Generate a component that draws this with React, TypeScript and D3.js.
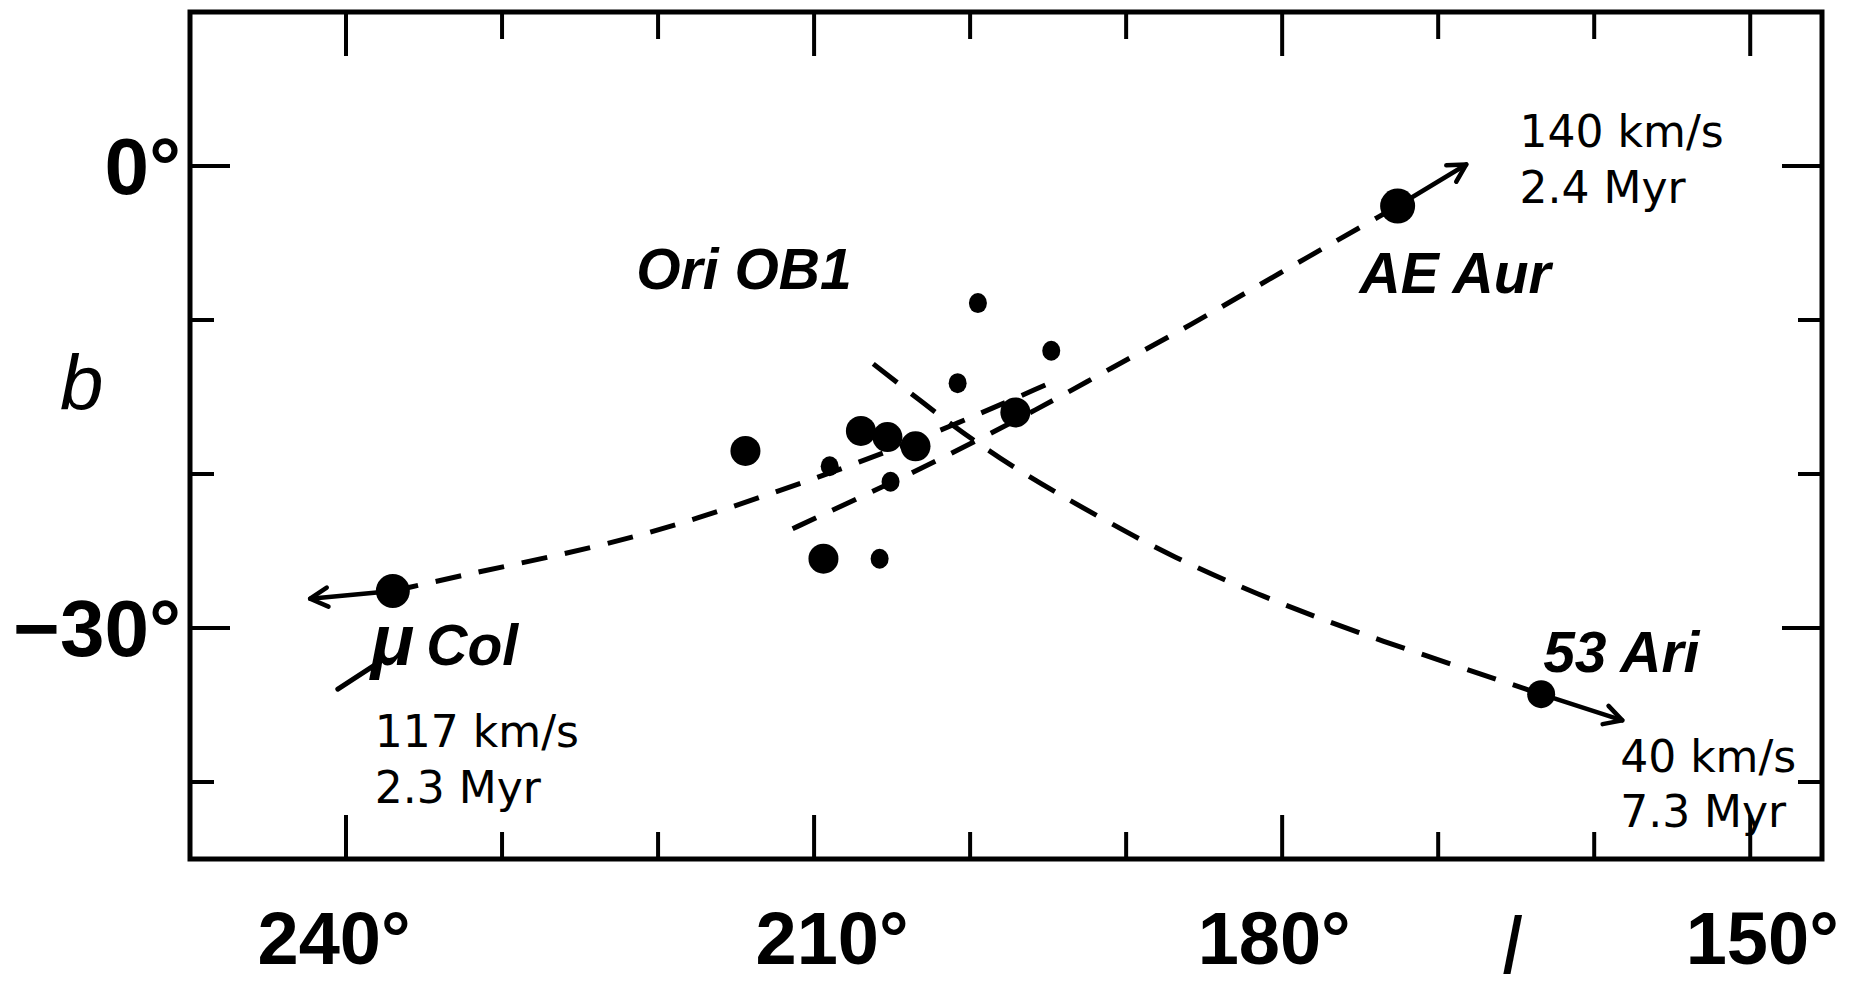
import React from 'react';
import * as d3 from 'd3';

const W = 1866;
const H = 991;
const margin = { left: 190, right: 44, top: 12, bottom: 132 };

// Axis domains (galactic longitude decreases to the right)
const lDomain = [250, 145.4];
const bDomain = [10, -45];

const lTicks = [240, 230, 220, 210, 200, 190, 180, 170, 160, 150];
const lLabelled = [240, 210, 180, 150];
const bTicks = [0, -10, -20, -30, -40];
const bLabelled = [0, -30];

// Ori OB1 association members (l, b in degrees)
const brightL = [214.4, 207.0, 205.3, 203.5, 197.1, 209.4];
const brightB = [-18.5, -17.2, -17.6, -18.2, -16.0, -25.5];
const faintL = [209.0, 205.1, 205.8, 199.5, 194.8, 200.8];
const faintB = [-19.5, -20.5, -25.5, -8.9, -12.0, -14.1];

// Runaway stars
const starNames = ['AE Aur', 'Col', '53 Ari'];
const starL = [172.6, 237.0, 163.4];
const starB = [-2.6, -27.6, -34.3];
const tipL = [168.2, 242.3, 158.2];
const tipB = [0.1, -28.1, -36.0];
const starSpeed = ['140 km/s', '117 km/s', '40 km/s'];
const starAge = ['2.4 Myr', '2.3 Myr', '7.3 Myr'];

// Traced-back paths
const pathMuCol = [[237.0, -27.6], [231.3, -26.3], [224.1, -24.8], [218.4, -23.2], [212.8, -21.3], [207.2, -19.3], [201.2, -16.9], [194.9, -14.1]];
const pathAEAur = [[172.6, -2.6], [180.6, -7.2], [185.8, -10.3], [191.1, -13.2], [195.5, -15.7], [201.8, -19.0], [206.8, -21.4], [211.9, -23.8]];
const path53Ari = [[163.4, -34.3], [168.7, -32.5], [175.2, -30.3], [181.2, -28.0], [187.2, -25.3], [191.0, -23.2], [194.7, -21.1], [198.1, -19.0], [201.2, -16.8], [204.0, -14.6], [206.9, -12.3]];

const groupLabel = 'Ori OB1';
const groupLabelPos = [221.4, -8.0];

// small horizontal nudges of the hand-placed longitude labels (px)
const lLabelNudge = [-12, 18, -8, 12];

export default function App() {
  const x = d3.scaleLinear().domain(lDomain).range([margin.left, W - margin.right]);
  const y = d3.scaleLinear().domain(bDomain).range([margin.top, H - margin.bottom]);
  const line = d3
    .line<number[]>()
    .x((d) => x(d[0]))
    .y((d) => y(d[1]))
    .curve(d3.curveBasis);

  const x0 = margin.left;
  const x1 = W - margin.right;
  const y0 = margin.top;
  const y1 = H - margin.bottom;

  const labelFont = "'Liberation Sans', Arial, Helvetica, sans-serif";
  const noteFont = "'DejaVu Sans', 'Noto Sans', sans-serif";

  const arrow = (i: number) => {
    const sx = x(starL[i]);
    const sy = y(starB[i]);
    const tx = x(tipL[i]);
    const ty = y(tipB[i]);
    const ang = Math.atan2(ty - sy, tx - sx);
    const len = 20;
    const spread = 0.5;
    const a1 = [tx - len * Math.cos(ang - spread), ty - len * Math.sin(ang - spread)];
    const a2 = [tx - len * Math.cos(ang + spread), ty - len * Math.sin(ang + spread)];
    return (
      <g key={'arrow' + i} stroke="#000" strokeWidth={4.5} fill="none" strokeLinecap="round" strokeLinejoin="round">
        <line x1={sx} y1={sy} x2={tx} y2={ty} />
        <polyline points={`${a1[0]},${a1[1]} ${tx},${ty} ${a2[0]},${a2[1]}`} />
      </g>
    );
  };

  const sp = (i: number) => [x(starL[i]), y(starB[i])];
  const [aeX, aeY] = sp(0);
  const [muX, muY] = sp(1);
  const [ariX, ariY] = sp(2);

  return (
    <svg width={W} height={H} style={{ position: 'absolute', left: 0, top: 0, display: 'block', background: '#fff' }}>
      <rect x={0} y={0} width={W} height={H} fill="#fff" />
      {/* frame */}
      <rect x={x0} y={y0} width={x1 - x0} height={y1 - y0} fill="none" stroke="#000" strokeWidth={5} />
      {/* l ticks top and bottom */}
      {lTicks.map((t) => {
        const len = lLabelled.includes(t) ? 44 : 27;
        return (
          <g key={'lt' + t} stroke="#000" strokeWidth={4}>
            <line x1={x(t)} x2={x(t)} y1={y0} y2={y0 + len} />
            <line x1={x(t)} x2={x(t)} y1={y1} y2={y1 - len} />
          </g>
        );
      })}
      {/* b ticks left and right */}
      {bTicks.map((t) => {
        const len = bLabelled.includes(t) ? 40 : 24;
        return (
          <g key={'bt' + t} stroke="#000" strokeWidth={4}>
            <line x1={x0} x2={x0 + len} y1={y(t)} y2={y(t)} />
            <line x1={x1} x2={x1 - len} y1={y(t)} y2={y(t)} />
          </g>
        );
      })}
      {/* tick labels */}
      {lLabelled.map((t, i) => (
        <text key={'ll' + t} x={x(t) + lLabelNudge[i]} y={964} textAnchor="middle" fontFamily={labelFont} fontWeight="bold" fontSize={74}>
          {t}°
        </text>
      ))}
      {bLabelled.map((t) => (
        <text key={'bl' + t} x={181} y={y(t) + 28} textAnchor="end" fontFamily={labelFont} fontWeight="bold" fontSize={80}>
          {t === 0 ? '0' : '−' + Math.abs(t)}°
        </text>
      ))}
      {/* axis titles */}
      <text x={60} y={410} fontFamily={labelFont} fontStyle="italic" fontSize={78}>
        b
      </text>
      <text x={1502} y={974} fontFamily={labelFont} fontStyle="italic" fontSize={82}>
        l
      </text>

      {/* traced paths */}
      <path d={line(pathMuCol) || ''} fill="none" stroke="#000" strokeWidth={5} strokeDasharray="26 18" />
      <path d={line(pathAEAur) || ''} fill="none" stroke="#000" strokeWidth={5} strokeDasharray="26 18" />
      <path d={line(path53Ari) || ''} fill="none" stroke="#000" strokeWidth={5} strokeDasharray="30 18" />

      {/* association members */}
      {brightL.map((l, i) => (
        <circle key={'br' + i} cx={x(l)} cy={y(brightB[i])} r={15} fill="#000" />
      ))}
      {faintL.map((l, i) => (
        <ellipse key={'fa' + i} cx={x(l)} cy={y(faintB[i])} rx={9} ry={10} fill="#000" />
      ))}

      {/* runaways */}
      {starL.map((_, i) => arrow(i))}
      <circle cx={aeX} cy={aeY} r={17.5} fill="#000" />
      <circle cx={muX} cy={muY} r={17} fill="#000" />
      <circle cx={ariX} cy={ariY} r={14} fill="#000" />

      {/* labels */}
      <g fontFamily={labelFont} fontWeight="bold" fontStyle="italic" fontSize={57} fill="#000">
        <text x={x(groupLabelPos[0])} y={y(groupLabelPos[1])}>{groupLabel}</text>
        <text x={aeX - 38} y={aeY + 87}>{starNames[0]}</text>
        <text x={ariX + 2} y={ariY - 22}>{starNames[2]}</text>
        <text x={muX - 22} y={muY + 74}>
          <tspan fontSize={72}>μ</tspan>
          <tspan dx={12}>{starNames[1]}</tspan>
        </text>
      </g>
      <line x1={muX - 12} y1={muY + 70} x2={muX - 55} y2={muY + 98} stroke="#000" strokeWidth={5} strokeLinecap="round" />

      {/* annotations */}
      <g fontFamily={noteFont} fontSize={44} fill="#000">
        <text x={aeX + 122} y={aeY - 59}>{starSpeed[0]}</text>
        <text x={aeX + 122} y={aeY - 3}>{starAge[0]}</text>
        <text x={muX - 18} y={muY + 156}>{starSpeed[1]}</text>
        <text x={muX - 18} y={muY + 212}>{starAge[1]}</text>
        <text x={ariX + 79} y={ariY + 78}>{starSpeed[2]}</text>
        <text x={ariX + 79} y={ariY + 133}>{starAge[2]}</text>
      </g>
    </svg>
  );
}
